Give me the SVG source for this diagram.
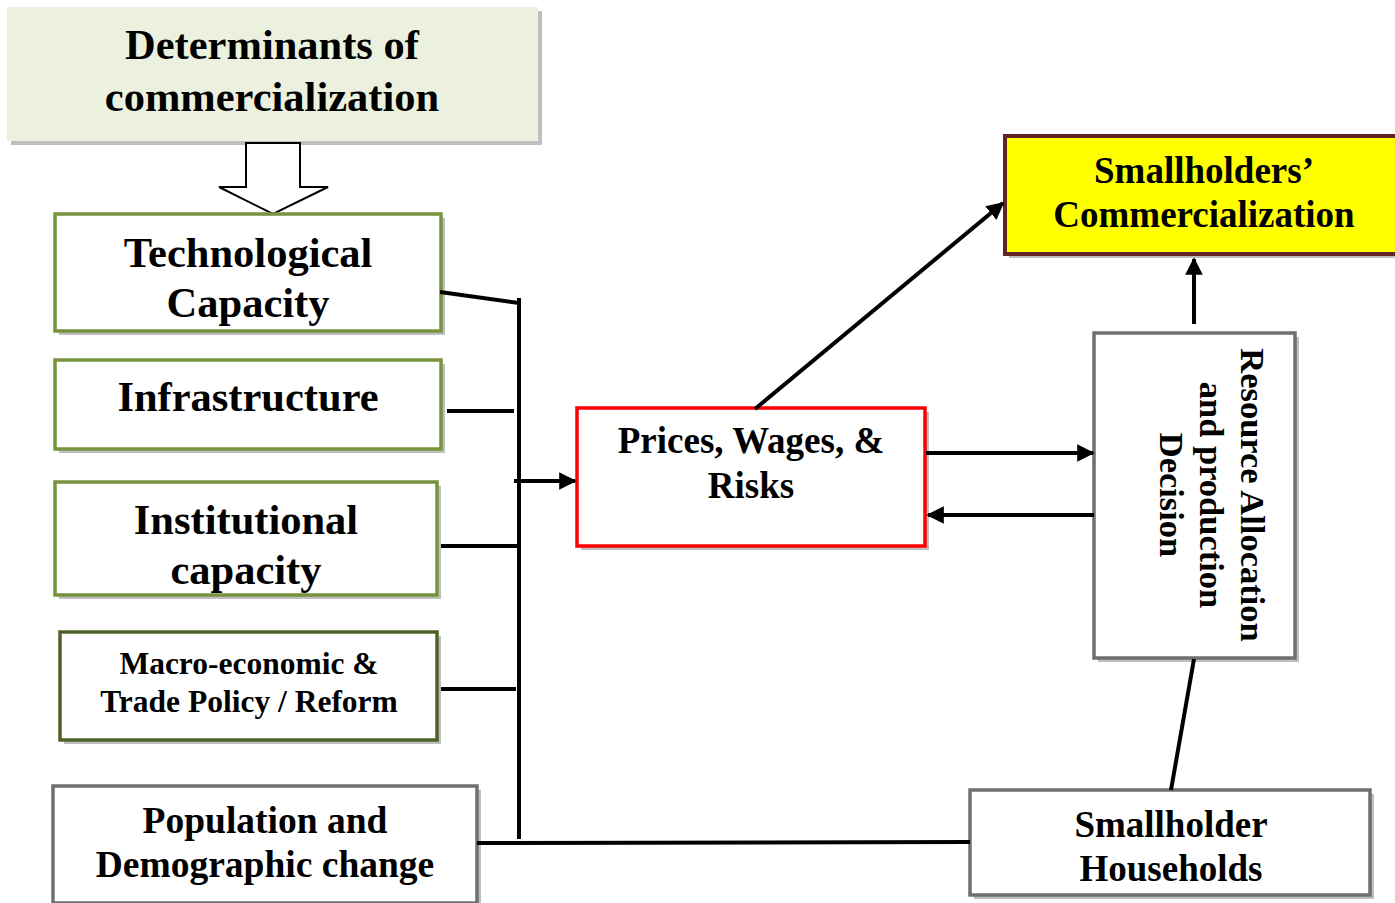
<svg xmlns="http://www.w3.org/2000/svg" width="1395" height="903" viewBox="0 0 1395 903">
<defs>
<style>
.t{font-family:"Liberation Serif","Times New Roman",serif;font-weight:bold;fill:#000;text-anchor:middle}
.sh{fill:#bfbfbf}
.g{fill:#fff;stroke:#77933c;stroke-width:3.5}
.gd{fill:#fff;stroke:#4f6228;stroke-width:3.5}
.gr{fill:#fff;stroke:#6f6f6f;stroke-width:3.5}
.c{stroke:#000;stroke-width:4;fill:none}
</style>
<marker id="ah" viewBox="0 0 10 10" refX="9" refY="5" markerWidth="4.4" markerHeight="4.4" orient="auto" markerUnits="strokeWidth">
<path d="M0,0 L10,5 L0,10 z" fill="#000"/>
</marker>
</defs>
<rect width="1395" height="903" fill="#fff"/>

<g id="title">
<rect class="sh" x="11" y="11" width="531" height="134"/>
<rect x="7" y="7" width="531" height="134" fill="#ebf1de"/>
<text class="t" x="272" y="59" font-size="42.5">Determinants of</text>
<text class="t" x="272" y="111" font-size="42.5">commercialization</text>
</g>

<g id="hollow-arrow">
<path d="M246,143 L300,143 L300,187 L328,187 L273,214 L219,187 L246,187 Z" fill="#fff" stroke="#000" stroke-width="2"/>
</g>

<g id="tech">
<rect class="sh" x="59" y="218" width="386" height="117"/>
<rect class="g" x="55" y="214" width="386" height="117"/>
<text class="t" x="248" y="267" font-size="42.5">Technological</text>
<text class="t" x="248" y="317" font-size="42.5">Capacity</text>
</g>

<g id="infra">
<rect class="sh" x="59" y="364" width="386" height="89"/>
<rect class="g" x="55" y="360" width="386" height="89"/>
<text class="t" x="248" y="411" font-size="42.5">Infrastructure</text>
</g>

<g id="inst">
<rect class="sh" x="59" y="486" width="382" height="113"/>
<rect class="g" x="55" y="482" width="382" height="113"/>
<text class="t" x="246" y="534" font-size="42.5">Institutional</text>
<text class="t" x="246" y="584" font-size="42.5">capacity</text>
</g>

<g id="macro">
<rect class="sh" x="64" y="636" width="377" height="108"/>
<rect class="gd" x="60" y="632" width="377" height="108"/>
<text class="t" x="249" y="674" font-size="31.5">Macro-economic &amp;</text>
<text class="t" x="249" y="712" font-size="31.5">Trade Policy / Reform</text>
</g>

<g id="population">
<rect class="sh" x="57" y="790" width="424" height="117"/>
<rect class="gr" x="53" y="786" width="424" height="117"/>
<text class="t" x="265" y="833" font-size="37.5">Population and</text>
<text class="t" x="265" y="877" font-size="37.5">Demographic change</text>
</g>

<g id="prices">
<rect class="sh" x="581" y="412" width="348" height="138"/>
<rect x="577" y="408" width="348" height="138" fill="#fff" stroke="#ff0000" stroke-width="3.5"/>
<text class="t" x="751" y="453" font-size="37">Prices, Wages, &amp;</text>
<text class="t" x="751" y="498" font-size="37">Risks</text>
</g>

<g id="commercialization">
<rect class="sh" x="1009" y="140" width="390" height="118"/>
<rect x="1005" y="136" width="395" height="118" fill="#ffff00" stroke="#632523" stroke-width="4"/>
<text class="t" x="1204" y="183" font-size="37">Smallholders’</text>
<text class="t" x="1204" y="227" font-size="37">Commercialization</text>
</g>

<g id="resource">
<rect class="sh" x="1098" y="337" width="201" height="325"/>
<rect class="gr" x="1094" y="333" width="201" height="325"/>
<g transform="translate(1195,495) rotate(90)">
<text class="t" x="0" y="-46" font-size="34.5">Resource Allocation</text>
<text class="t" x="0" y="-5" font-size="34.5">and production</text>
<text class="t" x="0" y="35" font-size="34.5">Decision</text>
</g>
</g>

<g id="households">
<rect class="sh" x="974" y="794" width="400" height="105"/>
<rect class="gr" x="970" y="790" width="400" height="105"/>
<text class="t" x="1171" y="837" font-size="37">Smallholder</text>
<text class="t" x="1171" y="881" font-size="37">Households</text>
</g>

<g id="connectors">
<line class="c" x1="519" y1="298" x2="519" y2="839"/>
<line class="c" x1="440" y1="292" x2="519" y2="303"/>
<line class="c" x1="447" y1="411" x2="514" y2="411"/>
<line class="c" x1="441" y1="546" x2="519" y2="546"/>
<line class="c" x1="441" y1="689" x2="516" y2="689"/>
<line class="c" x1="477" y1="843" x2="970" y2="842"/>
<line class="c" x1="514" y1="481" x2="575" y2="481" marker-end="url(#ah)"/>
<line class="c" x1="755" y1="409" x2="1003" y2="203" marker-end="url(#ah)"/>
<line class="c" x1="1194" y1="324" x2="1194" y2="259" marker-end="url(#ah)"/>
<line class="c" x1="926" y1="453" x2="1093" y2="453" marker-end="url(#ah)"/>
<line class="c" x1="1094" y1="515" x2="928" y2="515" marker-end="url(#ah)"/>
<line class="c" x1="1194" y1="659" x2="1171" y2="790"/>
</g>
</svg>
